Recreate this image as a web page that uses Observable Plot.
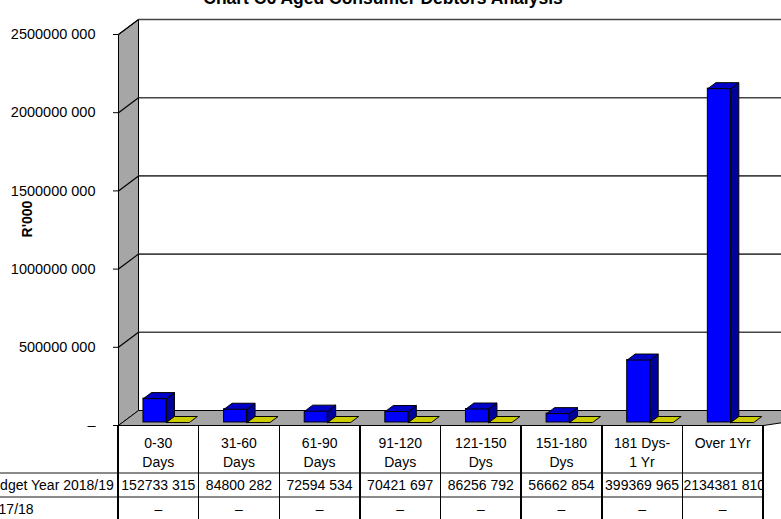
<!DOCTYPE html>
<html>
<head>
<meta charset="utf-8">
<script src="https://cdn.jsdelivr.net/npm/d3@7"></script>
<script src="https://cdn.jsdelivr.net/npm/@observablehq/plot@0.6"></script>
<style>
  body { margin: 0; background: #fff; font-family: "Liberation Sans", Arial, sans-serif; }
  #wrap { position: relative; width: 781px; height: 519px; overflow: hidden; background: #fff; }
  #chart { position: absolute; left: 0; top: 0; }
  #title { position: absolute; left: 0; width: 766px; top: -12px; text-align: center;
           font-weight: bold; font-size: 17.5px; line-height: 20px; color: #000; white-space: nowrap; }
  .cell { position: absolute; font-size: 14px; color: #000; text-align: center; overflow: hidden; white-space: nowrap; }
  .hdr { white-space: pre-line; line-height: 19px; padding-top: 8.5px; box-sizing: border-box; }
  .lbl { position: absolute; font-size: 14px; color: #000; white-space: nowrap; line-height: 24px; }
  .vline { position: absolute; width: 1.5px; background: #000; }
  .hline { position: absolute; height: 1.5px; background: #8a8a8a; }
</style>
</head>
<body>
<div id="wrap">
  <div id="chart"></div>
  <div id="title"></div>
</div>
<script>
// ---------- data ----------
const chartTitle = "Chart C6 Aged Consumer Debtors Analysis";
const yLabel = "R'000";
const categories = ["0-30\nDays", "31-60\nDays", "61-90\nDays", "91-120\nDays", "121-150\nDys", "151-180\nDys", "181 Dys-\n1 Yr", "Over 1Yr"];
const seriesNames = ["Budget Year 2018/19", "2017/18"];
const budget2019 = [152733315, 84800282, 72594534, 70421697, 86256792, 56662854, 399369965, 2134381810];
const prior2017 = [0, 0, 0, 0, 0, 0, 0, 0];
const yTicks = [0, 500000000, 1000000000, 1500000000, 2000000000, 2500000000];
const seriesColors = [
  { front: "#0000ff", top: "#0000c8", side: "#00009c" },
  { front: "#cccc00", top: "#cccc00", side: "#a0a000" }
];

// ---------- layout ----------
const W = 781, H = 519, ML = 118, MR = 18, MT = 34, MB = 94;
const n = categories.length;
const yMax = yTicks[yTicks.length - 1];
const pxPerX = (W - ML - MR) / n;
const pxPerY = (H - MT - MB) / yMax;
const dX = 20 / pxPerX, dY = 15 / pxPerY;   // depth of the 3-D box in data units
const z0 = 0.2, z1 = 0.6;                    // bar depth band (fraction of box depth)
const slots = [[0.26, 0.545], [0.545, 0.83]];

const fmt = v => v === 0 ? "–" : `${Math.floor(v / 1000)} ${String(v % 1000).padStart(3, "0")}`;

function poly(id, pts) {
  return pts.concat([pts[0]]).map(([x, y]) => ({ id, x, y }));
}

const wall = poly("wall", [[0, 0], [0, yMax], [dX, yMax + dY], [dX, dY]]);
const floor = poly("floor", [[0, 0], [dX, dY], [n + dX + 1, dY], [n, 0]]);
const gridTicks = yTicks.filter(v => v > 0);
const backGrid = gridTicks.map(v => ({ x1: dX, y1: v + dY, x2: n + dX + 1, y2: v + dY }));
const wallGrid = gridTicks.map(v => ({ x1: 0, y1: v, x2: dX, y2: v + dY }));

const bars = [];
[budget2019, prior2017].forEach((vals, s) => {
  vals.forEach((v, i) => bars.push({ s, i, v, a: i + slots[s][0], b: i + slots[s][1] }));
});
const fronts = bars.filter(d => d.v > 0).map(d => ({ s: d.s, x1: d.a + z0 * dX, x2: d.b + z0 * dX, y1: z0 * dY, y2: d.v + z0 * dY }));
const tops = bars.flatMap((d, k) => poly("t" + k, [
  [d.a + z0 * dX, d.v + z0 * dY], [d.a + z1 * dX, d.v + z1 * dY],
  [d.b + z1 * dX, d.v + z1 * dY], [d.b + z0 * dX, d.v + z0 * dY]
]).map(p => ({ ...p, s: d.s })));
const sides = bars.filter(d => d.v > 0).flatMap((d, k) => poly("s" + k, [
  [d.b + z0 * dX, z0 * dY], [d.b + z0 * dX, d.v + z0 * dY],
  [d.b + z1 * dX, d.v + z1 * dY], [d.b + z1 * dX, z1 * dY]
]).map(p => ({ ...p, s: d.s })));

const chart = Plot.plot({
  width: W, height: H,
  marginLeft: ML, marginRight: MR, marginTop: MT, marginBottom: MB,
  style: { fontFamily: "Liberation Sans, Arial, sans-serif", fontSize: "14px", color: "#000", background: "transparent", overflow: "visible" },
  x: { domain: [0, n], axis: null },
  y: { domain: [0, yMax] },
  marks: [
    Plot.line(wall, { x: "x", y: "y", z: "id", fill: "#a6a6a6", stroke: "#000", strokeWidth: 1 }),
    Plot.line(floor, { x: "x", y: "y", z: "id", fill: "#a6a6a6", stroke: "#000", strokeWidth: 1 }),
    Plot.link(backGrid, { x1: "x1", y1: "y1", x2: "x2", y2: "y2", stroke: "#444", strokeWidth: 1.6 }),
    Plot.link(wallGrid, { x1: "x1", y1: "y1", x2: "x2", y2: "y2", stroke: "#000", strokeWidth: 1.2 }),
    Plot.axisY({ ticks: yTicks, tickFormat: fmt, tickSize: 5, tickPadding: 18, label: null, fontSize: 14.5 }),
    Plot.text([yLabel], { frameAnchor: "left", textAnchor: "middle", rotate: -90, dx: -91, dy: -11, fontWeight: "bold", fontSize: 14 }),
    Plot.rect(fronts, { x1: "x1", x2: "x2", y1: "y1", y2: "y2", fill: d => seriesColors[d.s].front, stroke: "#000", strokeWidth: 1 }),
    Plot.line(sides, { x: "x", y: "y", z: "id", fill: d => seriesColors[d.s].side, stroke: "#000", strokeWidth: 1 }),
    Plot.line(tops, { x: "x", y: "y", z: "id", fill: d => seriesColors[d.s].top, stroke: "#000", strokeWidth: 1 })
  ]
});
document.getElementById("chart").appendChild(chart);
document.getElementById("title").textContent = chartTitle;

// ---------- data table below the plot ----------
const xs = chart.scale("x");
const ys = chart.scale("y");
const wrap = document.getElementById("wrap");
const tTop = ys.apply(0);
const rows = [{ top: tTop, h: 48 }, { top: tTop + 48, h: 24 }, { top: tTop + 72, h: 24 }];
const xEnd = xs.apply(n);
function add(cls, css, text) {
  const el = document.createElement("div");
  el.className = cls;
  Object.assign(el.style, css);
  if (text != null) el.textContent = text;
  wrap.appendChild(el);
  return el;
}
add("hline", { left: "0px", top: (rows[1].top - 0.75) + "px", width: xEnd + "px" });
add("hline", { left: "0px", top: (rows[2].top - 0.75) + "px", width: xEnd + "px" });
for (let i = 0; i <= n; i++) {
  add("vline", { left: (xs.apply(i) - 0.75) + "px", top: tTop + "px", height: (H - tTop) + "px" });
}
categories.forEach((c, i) => {
  const x0 = xs.apply(i), x1 = xs.apply(i + 1);
  add("cell hdr", { left: x0 + "px", width: (x1 - x0) + "px", top: rows[0].top + "px", height: rows[0].h + "px" }, c);
});
[budget2019, prior2017].forEach((vals, r) => {
  const row = rows[r + 1];
  add("lbl", { left: "-17px", top: row.top + "px", height: row.h + "px" }, seriesNames[r]);
  vals.forEach((v, i) => {
    const x0 = xs.apply(i), x1 = xs.apply(i + 1);
    add("cell", { left: (x0 + 1) + "px", width: (x1 - x0 - 2) + "px", top: row.top + "px", height: row.h + "px", lineHeight: row.h + "px" }, fmt(v));
  });
});
</script>
</body>
</html>
